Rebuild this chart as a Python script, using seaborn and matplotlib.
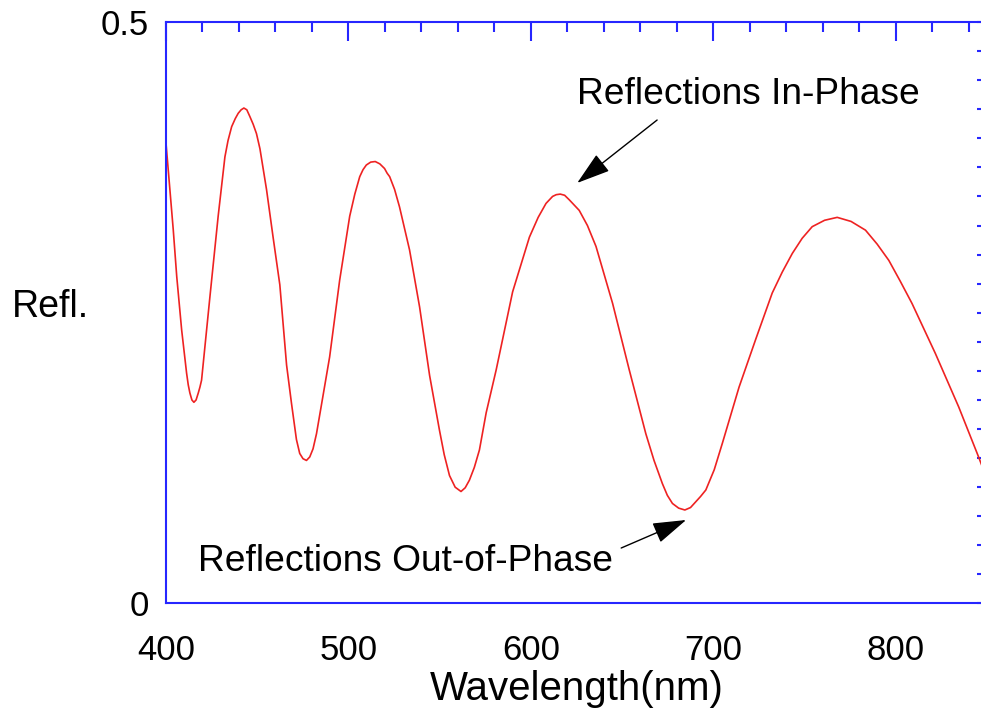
import numpy as np
import pandas as pd
import matplotlib
matplotlib.use("Agg")
import matplotlib.pyplot as plt
import seaborn as sns
from matplotlib.ticker import MultipleLocator

# Values
wavelength = [400.0, 404.0, 405.9, 408.6, 411.3, 412.2, 413.1, 414.2, 415.3, 416.5,
              417.7, 418.6, 419.5, 424.1, 428.6, 432.3, 434.0, 436.0, 438.0, 439.6,
              441.2, 442.7, 444.3, 446.0, 447.8, 449.6, 451.5, 455.1, 458.7, 462.4,
              466.1, 468.8, 471.5, 473.3, 475.1, 477.0, 478.8, 480.6, 482.5, 486.0,
              489.7, 495.2, 500.7, 503.5, 506.2, 508.0, 509.8, 512.2, 514.7, 517.2,
              519.8, 521.2, 522.6, 525.3, 528.0, 533.5, 539.0, 544.5, 549.9, 552.5,
              555.4, 558.5, 561.7, 564.0, 566.3, 569.0, 571.8, 575.5, 581.0, 590.0,
              599.2, 604.0, 608.3, 611.9, 613.9, 616.1, 618.5, 621.1, 626.5, 631.0,
              635.7, 644.8, 653.9, 663.0, 667.5, 672.1, 674.8, 677.6, 681.0, 684.4,
              687.5, 690.4, 693.0, 695.9, 700.5, 705.0, 714.1, 723.2, 732.3, 737.8,
              743.3, 748.7, 754.2, 761.0, 767.9, 775.5, 783.4, 789.8, 796.2, 802.5,
              808.9, 821.7, 834.5, 845.4, 850.0]
reflectance = [0.396, 0.321, 0.281, 0.235, 0.198, 0.188, 0.181, 0.175, 0.173, 0.175,
               0.181, 0.186, 0.192, 0.264, 0.333, 0.384, 0.398, 0.410, 0.417, 0.4215,
               0.4245, 0.426, 0.4245, 0.4186, 0.412, 0.404, 0.391, 0.356, 0.315, 0.274,
               0.205, 0.172, 0.141, 0.129, 0.1245, 0.123, 0.126, 0.133, 0.146, 0.178,
               0.212, 0.278, 0.333, 0.352, 0.367, 0.373, 0.377, 0.3795, 0.380, 0.378,
               0.374, 0.370, 0.367, 0.356, 0.341, 0.304, 0.255, 0.196, 0.149, 0.128,
               0.110, 0.100, 0.0963, 0.0995, 0.106, 0.117, 0.132, 0.164, 0.201, 0.268,
               0.315, 0.332, 0.344, 0.350, 0.3515, 0.352, 0.351, 0.347, 0.338, 0.325,
               0.307, 0.258, 0.201, 0.146, 0.123, 0.103, 0.093, 0.086, 0.082, 0.0804,
               0.0825, 0.0875, 0.092, 0.0976, 0.115, 0.138, 0.186, 0.227, 0.267, 0.285,
               0.301, 0.314, 0.324, 0.3295, 0.332, 0.3285, 0.321, 0.309, 0.295, 0.277,
               0.258, 0.215, 0.169, 0.126, 0.107]

ytick_vals = [0, 0.5]
ytick_labels = ["0", "0.5"]

sns.set_style("white")
plt.rcParams['font.family'] = ['Liberation Sans', 'DejaVu Sans']
plt.rcParams['text.color'] = 'black'
plt.rcParams['axes.labelcolor'] = 'black'

df = pd.DataFrame({"Wavelength": wavelength, "Refl": reflectance})

blue = "#2626ff"
fig = plt.figure(figsize=(9.81, 7.11), dpi=100)
ax = fig.add_axes([0.1692, 0.1512, 0.8369, 0.8179])
sns.lineplot(data=df, x="Wavelength", y="Refl", color="#ee2222", lw=1.2, ax=ax)

ax.set_xlim(400, 850)
ax.set_ylim(0, 0.5)
ax.xaxis.set_major_locator(MultipleLocator(100))
ax.xaxis.set_minor_locator(MultipleLocator(20))
ax.set_yticks(ytick_vals)
ax.set_yticklabels(ytick_labels)
ax.yaxis.set_minor_locator(MultipleLocator(0.025))

ax.tick_params(axis="both", which="both", direction="in", top=True, right=True,
               color=blue, width=1.5, labelsize=25, labelcolor="black")
ax.tick_params(axis="x", which="major", length=14, pad=22)
ax.tick_params(axis="x", which="minor", length=7)
ax.tick_params(axis="y", which="both", length=7, pad=12)
for s in ax.spines.values():
    s.set_color(blue)
    s.set_linewidth(1.5)
    s.set_visible(True)

ax.set_xlabel("Wavelength(nm)", fontsize=29)
ax.xaxis.set_label_coords(0.5, -0.147)
ax.xaxis.label.set_va("center")
ax.set_ylabel("Refl.", fontsize=27, rotation=0, ha="left", va="center")
ax.yaxis.set_label_coords(-0.1876, 0.51)

# Annotations
ax.text(625.4, 0.4373, "Reflections In-Phase", fontsize=26.7, ha="left", va="center")
ax.annotate("", xy=(625.4, 0.3616), xytext=(669.2, 0.4157),
            arrowprops=dict(arrowstyle="-|>,head_length=0.7,head_width=0.22",
                            color="black", lw=1, mutation_scale=30, shrinkA=0, shrinkB=0))
ax.text(417.5, 0.0357, "Reflections Out-of-Phase", fontsize=26.7, ha="left", va="center")
ax.annotate("", xy=(685.1, 0.0718), xytext=(649.5, 0.0477),
            arrowprops=dict(arrowstyle="-|>,head_length=0.7,head_width=0.22",
                            color="black", lw=1, mutation_scale=30, shrinkA=0, shrinkB=0))

plt.savefig("out.png", dpi=100)
plt.close()
